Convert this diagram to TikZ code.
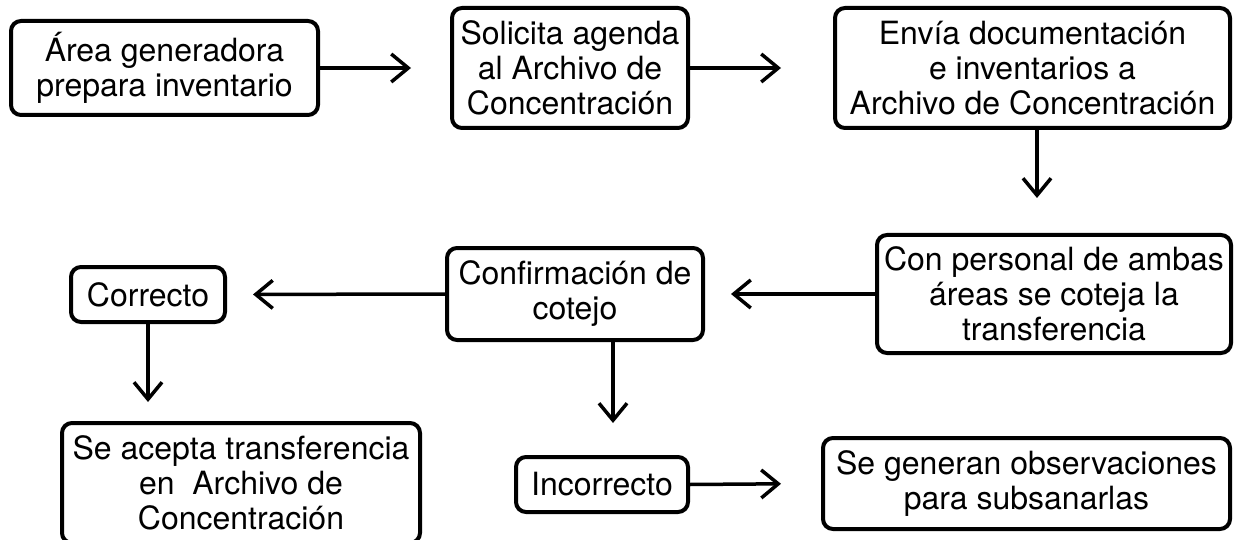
\documentclass[tikz,border=0pt]{standalone}
\usepackage{fontspec}
\setmainfont{TeX Gyre Heros}
\usepackage{tikz}
\usetikzlibrary{arrows.meta}
\usetikzlibrary{positioning}

\tikzset{
  paso/.style={draw, line width=4pt, rounded corners=10pt, inner sep=0pt,
    align=center, font=\fontsize{32}{35}\selectfont},
  flecha/.style={line width=3.5pt, -{Straight Barb[length=17pt,width=28pt,line width=3.5pt]}}
}

\begin{document}
\begin{tikzpicture}[x=1pt,y=-1pt]
\useasboundingbox (0,0) rectangle (1234,540);
% fila de arriba
\node[paso, minimum width=307pt, minimum height=94pt] (area) at (164.5,68) {\'Area generadora\\prepara inventario};
\node[paso, minimum width=236pt, minimum height=120pt] (solicita) at (570,68) {Solicita agenda\\al Archivo de\\Concentraci\'on};
\node[paso, minimum width=395pt, minimum height=120pt] (envia) at (1032.5,68) {Env\'ia documentaci\'on\\e inventarios a\\Archivo de Concentraci\'on};
% fila de en medio
\node[paso, minimum width=354pt, minimum height=118pt] (personal) at (1054,294) {Con personal de ambas\\\'areas se coteja la\\transferencia};
\node[paso, minimum width=256pt, minimum height=92pt] (confirma) at (575,294) {Confirmaci\'on de\\cotejo};
\node[paso, minimum width=154pt, minimum height=55pt] (correcto) at (148,294.5) {Correcto};
% fila de abajo
\node[paso, minimum width=358pt, minimum height=120pt] (acepta) at (241,483) {Se acepta transferencia\\en\ \ Archivo de\\Concentraci\'on};
\node[paso, minimum width=172pt, minimum height=55pt] (incorrecto) at (602,484.5) {Incorrecto};
\node[paso, minimum width=407pt, minimum height=91pt] (observa) at (1026.5,483.5) {Se generan observaciones\\para subsanarlas};
% puntas libres
\coordinate (t3) at (1037,198);
\coordinate (t7) at (613,423);
% flechas
\draw[flecha, shorten >=39pt] (area.east) -- (solicita.west);
\draw[flecha, shorten >=52pt] (solicita.east) -- (envia.west);
\draw[flecha] (envia.south -| t3) -- (t3);
\draw[flecha, shorten >=26pt] (personal.west) -- (confirma.east);
\draw[flecha, shorten >=26pt] (confirma.west) -- (correcto.east);
\draw[flecha, shorten >=19pt] (correcto.south) -- (acepta.north -| correcto.south);
\draw[flecha] (confirma.south -| t7) -- (t7);
\draw[flecha, shorten >=40pt] (incorrecto.east) -- (observa.west);
\end{tikzpicture}
\end{document}
